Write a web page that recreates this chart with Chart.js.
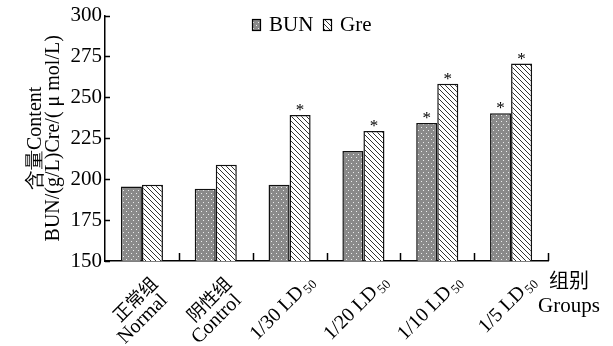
<!DOCTYPE html>
<html lang="zh">
<head>
  <meta charset="UTF-8">
  <title>BUN / Gre</title>
  <script src="https://cdn.jsdelivr.net/npm/chart.js"></script>
  <style>
    body { margin: 0; background: #fff; }
  </style>
</head>
<body>
  <canvas id="chart" width="613" height="346"></canvas>

  <script>
    // data
    const categories = [['正常组', 'Normal'], ['阴性组', 'Control'], ['1/30 LD'], ['1/20 LD'], ['1/10 LD'], ['1/5 LD']];
    const subscripts = ['', '', '50', '50', '50', '50'];
    const bunValues = [195.5, 194.2, 196.6, 217.3, 234.4, 240.3];
    const greValues = [196.6, 208.8, 239.2, 229.5, 258.4, 270.7];
    const bunStars = [false, false, false, false, true, true];
    const greStars = [false, false, true, true, true, true];
    const yTicks = [150, 175, 200, 225, 250, 275, 300];

    const FONT = "'Liberation Serif', 'Times New Roman', serif";
    const CJK = "'Noto Sans CJK SC', 'Liberation Serif', serif";

    function dotPattern() {
      const c = document.createElement("canvas");
      c.width = 5; c.height = 6;
      const g = c.getContext("2d");
      g.fillStyle = "#8a8a8a";
      g.fillRect(0, 0, 5, 6);
      g.fillStyle = "#ececec";
      g.fillRect(1, 1, 1, 1);
      g.fillRect(3, 4, 1, 1);
      return g.createPattern(c, "repeat");
    }

    function hatchPattern() {
      const c = document.createElement("canvas");
      c.width = 5; c.height = 5;
      const g = c.getContext("2d");
      g.fillStyle = "#fff";
      g.fillRect(0, 0, 5, 5);
      g.strokeStyle = "#333";
      g.lineWidth = 1;
      g.beginPath();
      g.moveTo(-1, -1); g.lineTo(6, 6);
      g.moveTo(-1, 4); g.lineTo(1, 6);
      g.moveTo(4, -1); g.lineTo(6, 1);
      g.stroke();
      return g.createPattern(c, "repeat");
    }

    const bunFill = dotPattern();
    const greFill = hatchPattern();

    // inward ticks, group separators, legend, labels, asterisks
    const extras = {
      id: "extras",
      afterDraw(chart) {
        const ctx = chart.ctx;
        const x = chart.scales.x, y = chart.scales.y;
        const area = chart.chartArea;
        ctx.save();
        ctx.strokeStyle = "#000";
        ctx.lineWidth = 1.5;
        ctx.beginPath();
        yTicks.forEach(v => {
          const py = Math.round(y.getPixelForValue(v)) + 0.5;
          ctx.moveTo(area.left, py);
          ctx.lineTo(area.left + 5, py);
        });
        for (let i = 0; i < categories.length; i++) {
          const px = i < categories.length - 1
            ? (x.getPixelForValue(i) + x.getPixelForValue(i + 1)) / 2
            : area.right;
          ctx.moveTo(Math.round(px) + 0.5, area.bottom);
          ctx.lineTo(Math.round(px) + 0.5, area.bottom - 8);
        }
        ctx.stroke();

        // legend
        const items = [["BUN", bunFill, 252], ["Gre", greFill, 323]];
        ctx.lineWidth = 1.2;
        items.forEach(([name, fill, lx]) => {
          ctx.fillStyle = fill;
          ctx.fillRect(lx, 19, 8, 11);
          ctx.strokeRect(lx + 0.5, 19.5, 8, 11);
          ctx.fillStyle = "#000";
          ctx.font = "21px " + FONT;
          ctx.textAlign = "left";
          ctx.textBaseline = "middle";
          ctx.fillText(name, lx + 17, 25);
        });

        // asterisks
        ctx.fillStyle = "#000";
        ctx.font = "17px " + FONT;
        ctx.textAlign = "center";
        ctx.textBaseline = "alphabetic";
        [bunStars, greStars].forEach((stars, d) => {
          const meta = chart.getDatasetMeta(d);
          stars.forEach((s, i) => {
            if (!s) return;
            const bar = meta.data[i];
            ctx.fillText("*", bar.x, bar.y);
          });
        });

        // rotated category labels
        categories.forEach((lines, i) => {
          const cx = x.getPixelForValue(i);
          ctx.save();
          if (lines.length > 1) {
            ctx.translate(cx + 12, area.bottom + 19);
          } else {
            ctx.translate(cx + 22, area.bottom + 18);
          }
          ctx.rotate(-Math.PI / 4);
          ctx.textAlign = "right";
          ctx.textBaseline = "middle";
          lines.forEach((t, j) => {
            const isCjk = /[\u4e00-\u9fff]/.test(t);
            ctx.font = (isCjk ? "18px " + CJK : "20px " + FONT);
            if (subscripts[i] && j === lines.length - 1) {
              ctx.font = "13px " + FONT;
              const w = ctx.measureText(subscripts[i]).width;
              ctx.fillText(subscripts[i], 0, 5);
              ctx.font = "20px " + FONT;
              ctx.fillText(t, -w - 2, 0);
            } else {
              ctx.fillText(t, -5 * j, 20 * j);
            }
          });
          ctx.restore();
        });

        // x axis name on the right
        ctx.textAlign = "center";
        ctx.textBaseline = "middle";
        ctx.font = "20px " + CJK;
        ctx.fillText("组别", 569, 280);
        ctx.font = "21px " + FONT;
        ctx.fillText("Groups", 569, 306);
        ctx.restore();
      }
    };

    new Chart(document.getElementById("chart"), {
      type: "bar",
      data: {
        labels: categories.map((c, i) => c.join(" ") + subscripts[i]),
        datasets: [
          {
            label: "BUN",
            data: bunValues,
            backgroundColor: bunFill,
            borderColor: "#111",
            borderWidth: 1.5,
            borderSkipped: "bottom"
          },
          {
            label: "Gre",
            data: greValues,
            backgroundColor: greFill,
            borderColor: "#111",
            borderWidth: 1.5,
            borderSkipped: "bottom"
          }
        ]
      },
      options: {
        responsive: false,
        animation: false,
        layout: { padding: { top: 14, right: 65, bottom: 85, left: 0 } },
        datasets: { bar: { categoryPercentage: 0.57, barPercentage: 1.0 } },
        plugins: {
          tooltip: { enabled: false },
          legend: { display: false }
        },
        scales: {
          x: {
            grid: { display: false, drawTicks: false },
            border: { color: "#000", width: 1.5 },
            ticks: { display: false },
            afterFit(s) { s.height = 0; }
          },
          y: {
            min: 150,
            max: 300,
            afterBuildTicks(s) { s.ticks = yTicks.map(v => ({ value: v })); },
            afterFit(s) { s.width = 105; },
            grid: { drawOnChartArea: false, drawTicks: false },
            border: { color: "#000", width: 1.5 },
            ticks: { color: "#000", padding: 3, font: { family: FONT, size: 21 } },
            title: {
              display: true,
              text: ["含量Content", "BUN/(g/L)Cre/( μ mol/L)"],
              color: "#000",
              font: { family: FONT, size: 20, lineHeight: 0.9 },
              padding: { top: 27, bottom: 0 }
            }
          }
        }
      },
      plugins: [extras]
    });
  </script>
</body>
</html>
